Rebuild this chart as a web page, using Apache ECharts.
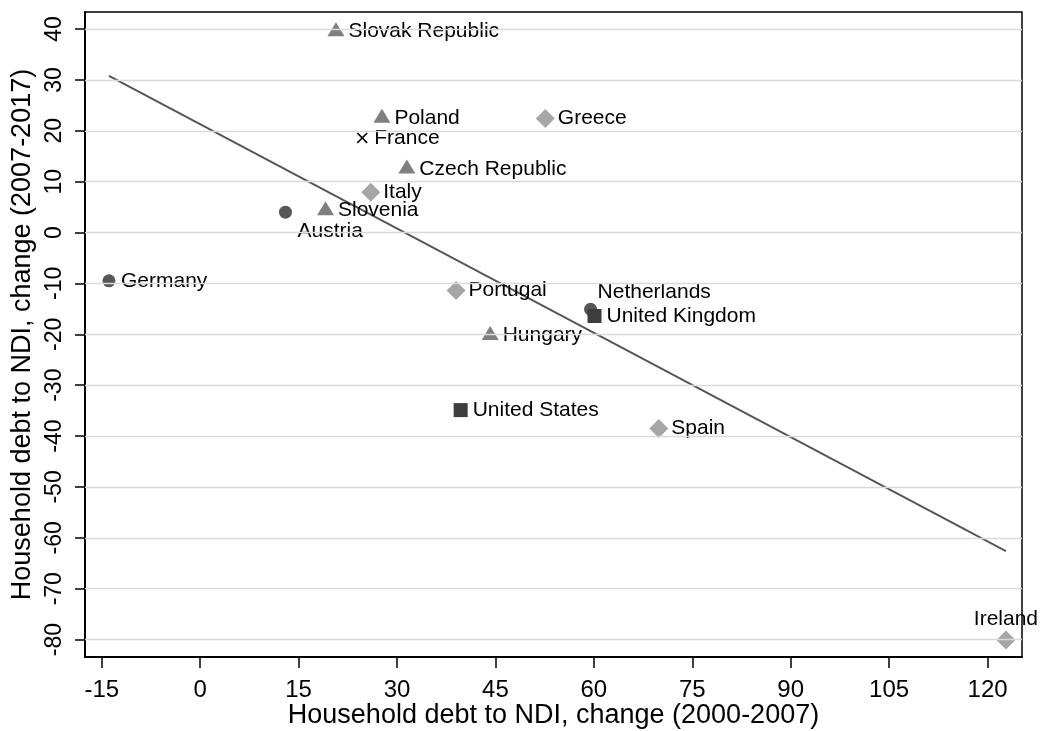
<!DOCTYPE html>
<html>
<head>
<meta charset="utf-8">
<script src="https://cdn.jsdelivr.net/npm/echarts@6/dist/echarts.min.js"></script>
<style>
  html, body { margin: 0; padding: 0; background: #fff; }
  #chart { width: 1040px; height: 731px; }
</style>
</head>
<body>
<div id="chart"></div>
<script>
// ---- Data ----
const triangleNames = ['Slovak Republic', 'Poland', 'Czech Republic', 'Slovenia', 'Hungary'];
const triangleX = [20.7, 27.7, 31.5, 19.1, 44.2];
const triangleY = [39.5, 22.5, 12.5, 4.3, -20.2];

const diamondNames = ['Greece', 'Italy', 'Portugal', 'Spain', 'Ireland'];
const diamondX = [52.6, 26.0, 39.0, 69.9, 122.8];
const diamondY = [22.4, 7.9, -11.4, -38.5, -80.1];

const circleNames = ['Austria', 'Germany', 'Netherlands'];
const circleX = [13.0, -13.9, 59.5];
const circleY = [4.0, -9.5, -15.1];

const squareNames = ['United Kingdom', 'United States'];
const squareX = [60.1, 39.7];
const squareY = [-16.4, -34.9];

const crossNames = ['France'];
const crossX = [24.7];
const crossY = [18.6];

const xTicks = [-15, 0, 15, 30, 45, 60, 75, 90, 105, 120];
const yTicks = [-80, -70, -60, -50, -40, -30, -20, -10, 0, 10, 20, 30, 40];

const xTitle = 'Household debt to NDI, change (2000-2007)';
const yTitle = 'Household debt to NDI, change (2007-2017)';

// ---- Styling ----
const FONT = '"Liberation Sans", Arial, Helvetica, sans-serif';
const labelOverrides = {
  'Austria': { position: 'right', offset: [0, 19] },
  'Netherlands': { position: 'right', offset: [-5, -17] },
  'Ireland': { position: 'top', distance: 1 }
};

function buildData(names, xs, ys) {
  return names.map((n, i) => {
    const d = { name: n, value: [xs[i], ys[i]] };
    if (labelOverrides[n]) d.label = labelOverrides[n];
    return d;
  });
}

// OLS fit over all points
const allX = [].concat(triangleX, diamondX, circleX, squareX, crossX);
const allY = [].concat(triangleY, diamondY, circleY, squareY, crossY);
const n = allX.length;
const mx = allX.reduce((a, b) => a + b, 0) / n;
const my = allY.reduce((a, b) => a + b, 0) / n;
let sxy = 0, sxx = 0;
for (let i = 0; i < n; i++) { sxy += (allX[i] - mx) * (allY[i] - my); sxx += (allX[i] - mx) ** 2; }
const slope = sxy / sxx;
const intercept = my - slope * mx;
const xMinData = Math.min.apply(null, allX);
const xMaxData = Math.max.apply(null, allX);
const fitData = [[xMinData, intercept + slope * xMinData], [xMaxData, intercept + slope * xMaxData]];

function scatterSeries(name, data, symbol, size, color, distance, extra) {
  const s = {
    name: name,
    type: 'scatter',
    z: 3,
    symbol: symbol,
    symbolSize: size,
    itemStyle: { color: color, opacity: 1 },
    label: {
      show: true,
      position: 'right',
      distance: distance,
      formatter: '{b}',
      color: '#000',
      fontSize: 21,
      fontFamily: FONT
    },
    emphasis: { disabled: true },
    data: data
  };
  if (extra) {
    if (extra.symbolOffset) s.symbolOffset = extra.symbolOffset;
    if (extra.labelOffset) s.label.offset = extra.labelOffset;
  }
  return s;
}

const crossPath = 'path://M1,0 L5,4 L9,0 L10,1 L6,5 L10,9 L9,10 L5,6 L1,10 L0,9 L4,5 L0,1 Z';

const option = {
  animation: false,
  backgroundColor: '#fff',
  textStyle: { fontFamily: FONT },
  grid: {
    left: 85, right: 18, top: 12, bottom: 74,
    show: true, borderColor: '#000', borderWidth: 1.5,
    containLabel: false, outerBoundsMode: 'none'
  },
  xAxis: {
    type: 'value',
    min: -17.55, max: 125.25,
    splitLine: { show: false },
    axisLine: { show: true, onZero: false, lineStyle: { color: '#000', width: 2 } },
    axisTick: { show: true, length: 11, lineStyle: { color: '#000', width: 1.5 }, customValues: xTicks },
    axisLabel: { customValues: xTicks, margin: 21, fontSize: 24, color: '#000', fontFamily: FONT },
    name: xTitle,
    nameLocation: 'middle',
    nameGap: 45,
    nameMoveOverlap: false,
    nameTextStyle: { fontSize: 27, color: '#000', fontFamily: FONT }
  },
  yAxis: {
    type: 'value',
    min: -83.42, max: 43.34,
    splitLine: { show: false },
    axisLine: { show: true, onZero: false, lineStyle: { color: '#000', width: 2 } },
    axisTick: { show: true, length: 10, lineStyle: { color: '#000', width: 1.5 }, customValues: yTicks },
    axisLabel: { customValues: yTicks, rotate: 90, margin: 19, fontSize: 23, color: '#000', fontFamily: FONT },
    name: yTitle,
    nameLocation: 'middle',
    nameRotate: 90,
    nameGap: 49,
    nameMoveOverlap: false,
    nameTextStyle: { fontSize: 27, color: '#000', fontFamily: FONT }
  },
  series: [
    {
      name: 'grid',
      type: 'line',
      z: 0,
      data: [],
      markLine: {
        silent: true,
        symbol: 'none',
        label: { show: false },
        lineStyle: { color: '#dadada', width: 1.3, type: 'solid' },
        emphasis: { disabled: true },
        data: yTicks.map(v => ({ yAxis: v }))
      }
    },
    {
      name: 'fit',
      type: 'line',
      z: 2,
      silent: true,
      showSymbol: false,
      symbol: 'none',
      lineStyle: { color: '#555555', width: 1.9 },
      data: fitData
    },
    scatterSeries('triangles', buildData(triangleNames, triangleX, triangleY), 'triangle', [17, 14], '#7f7f7f', 4,
      { symbolOffset: [0, -2.3], labelOffset: [0, 2.3] }),
    scatterSeries('diamonds', buildData(diamondNames, diamondX, diamondY), 'diamond', 19, '#a6a6a6', 3),
    scatterSeries('circles', buildData(circleNames, circleX, circleY), 'circle', 13, '#575757', 5.5),
    scatterSeries('squares', buildData(squareNames, squareX, squareY), 'rect', 14, '#3d3d3d', 5),
    scatterSeries('cross', buildData(crossNames, crossX, crossY), crossPath, 11, '#000000', 6.5)
  ]
};

const chart = echarts.init(document.getElementById('chart'), null, { renderer: 'canvas' });
chart.setOption(option);
</script>
</body>
</html>
